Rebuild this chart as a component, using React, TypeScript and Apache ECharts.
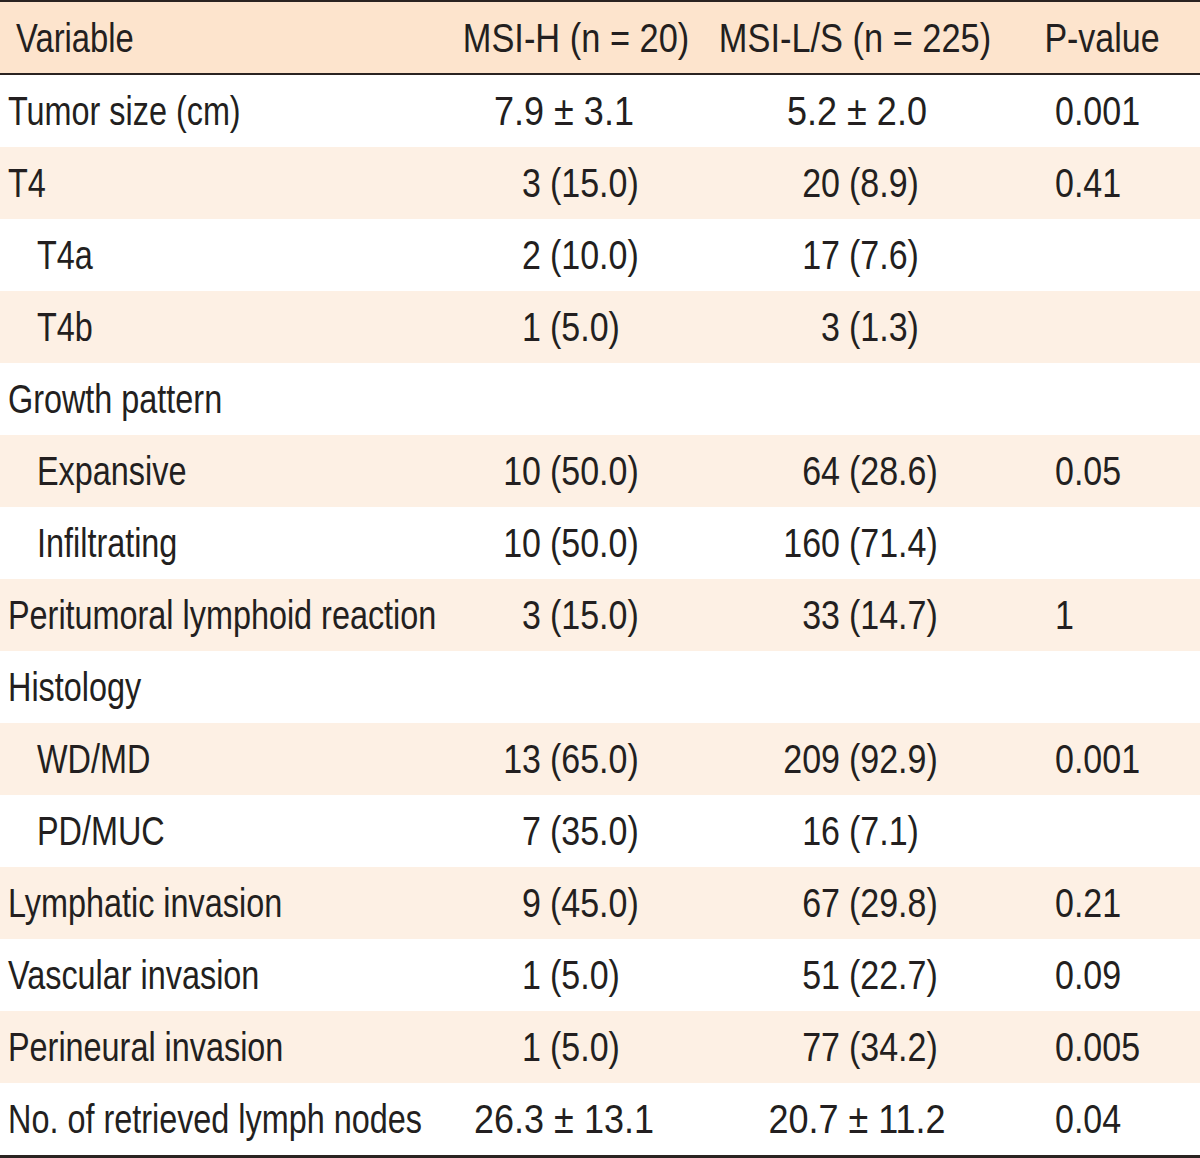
import React, { useEffect, useRef } from 'react';
import * as echarts from 'echarts';

// ---- data ----
const headers = ['Variable', 'MSI-H (n = 20)', 'MSI-L/S (n = 225)', 'P-value'];
const variables = [
  'Tumor size (cm)',
  'T4',
  'T4a',
  'T4b',
  'Growth pattern',
  'Expansive',
  'Infiltrating',
  'Peritumoral lymphoid reaction',
  'Histology',
  'WD/MD',
  'PD/MUC',
  'Lymphatic invasion',
  'Vascular invasion',
  'Perineural invasion',
  'No. of retrieved lymph nodes',
];
const indented = [false, false, true, true, false, true, true, false, false, true, true, false, false, false, false];
const msiH = ['7.9 ± 3.1', '3 (15.0)', '2 (10.0)', '1 (5.0)', '', '10 (50.0)', '10 (50.0)', '3 (15.0)', '', '13 (65.0)', '7 (35.0)', '9 (45.0)', '1 (5.0)', '1 (5.0)', '26.3 ± 13.1'];
const msiLS = ['5.2 ± 2.0', '20 (8.9)', '17 (7.6)', '3 (1.3)', '', '64 (28.6)', '160 (71.4)', '33 (14.7)', '', '209 (92.9)', '16 (7.1)', '67 (29.8)', '51 (22.7)', '77 (34.2)', '20.7 ± 11.2'];
const pValues = ['0.001', '0.41', '', '', '', '0.05', '', '1', '', '0.001', '', '0.21', '0.09', '0.005', '0.04'];

// ---- layout / style ----
const W = 1200;
const H = 1158;
const HEAD_H = 75;
const BOTTOM_GAP = 3;
const FONT = '"Liberation Sans", Arial, sans-serif';
const FONT_SIZE = 40;
// horizontal condensation of the typeface (words vs. figures)
const NARROW_WORD = 0.81;
const NARROW_NUM = 0.85;
const NARROW_PM = 0.9;
const NARROW_HEAD = [0.82, 0.86, 0.86, 0.85];
const TEXT_COLOR = '#231f20';
const HEADER_BG = '#fde4cd';
const BAND_BG = '#fdf0e4';
const LINE_COLOR = '#2a2321';
const VAR_X = 8;
const INDENT_X = 37;
const DATA_COLS = [
  { countRight: 541, pctLeft: 550, center: 564 },
  { countRight: 840, pctLeft: 849, center: 857 },
];
const P_X = 1055;
const HEADER_POS: Array<[number, string]> = [
  [16, 'left'],
  [576, 'center'],
  [855, 'center'],
  [1102, 'center'],
];

function textEl(text: string, x: number, y: number, align: string, sx: number) {
  return {
    type: 'text',
    x,
    y,
    scaleX: sx,
    scaleY: 1,
    style: {
      text,
      fill: TEXT_COLOR,
      fontSize: FONT_SIZE,
      fontFamily: FONT,
      align,
      verticalAlign: 'middle',
      textAlign: align,
      textVerticalAlign: 'middle',
    },
  };
}

function cellEls(val: string, col: { countRight: number; pctLeft: number; center: number }, i: number, y: number, api: any) {
  if (!val) return [];
  const m = val.match(/^(\S+) (\(.+\))$/);
  if (m) {
    return [
      textEl(m[1], api.coord([col.countRight, i])[0], y, 'right', NARROW_NUM),
      textEl(m[2], api.coord([col.pctLeft, i])[0], y, 'left', NARROW_NUM),
    ];
  }
  return [textEl(val, api.coord([col.center, i])[0], y, 'center', NARROW_PM)];
}

export default function App() {
  const ref = useRef<HTMLDivElement>(null);

  useEffect(() => {
    if (!ref.current) return;
    const chart = echarts.init(ref.current, undefined, { renderer: 'svg' });

    const option: any = {
      animation: false,
      backgroundColor: '#ffffff',
      grid: { left: 0, right: 0, top: HEAD_H, bottom: BOTTOM_GAP, containLabel: false },
      xAxis: { type: 'value', min: 0, max: W, show: false },
      yAxis: {
        type: 'category',
        inverse: true,
        data: variables,
        boundaryGap: true,
        axisLine: { show: false },
        axisTick: { show: false, interval: 0 },
        axisLabel: { show: false, interval: 0 },
        splitLine: { show: false },
        splitArea: { show: true, interval: 0, areaStyle: { color: ['#ffffff', BAND_BG] } },
      },
      series: [
        {
          type: 'custom',
          clip: false,
          data: variables.map((_, i) => [0, i]),
          encode: { x: 0, y: 1 },
          renderItem: (params: any, api: any) => {
            const i = params.dataIndex;
            const y = api.coord([0, i])[1];
            const children: any[] = [];
            children.push(textEl(variables[i], api.coord([indented[i] ? INDENT_X : VAR_X, i])[0], y, 'left', NARROW_WORD));
            children.push(...cellEls(msiH[i], DATA_COLS[0], i, y, api));
            children.push(...cellEls(msiLS[i], DATA_COLS[1], i, y, api));
            if (pValues[i]) children.push(textEl(pValues[i], api.coord([P_X, i])[0], y, 'left', NARROW_NUM));
            return { type: 'group', children };
          },
        },
      ],
      graphic: [
        { type: 'rect', shape: { x: 0, y: 0, width: W, height: HEAD_H }, style: { fill: HEADER_BG } },
        { type: 'rect', shape: { x: 0, y: 0, width: W, height: 2 }, style: { fill: LINE_COLOR } },
        { type: 'rect', shape: { x: 0, y: HEAD_H - 2, width: W, height: 2 }, style: { fill: LINE_COLOR } },
        { type: 'rect', shape: { x: 0, y: H - BOTTOM_GAP, width: W, height: BOTTOM_GAP }, style: { fill: LINE_COLOR } },
        ...headers.map((h, k) => textEl(h, HEADER_POS[k][0], 38, HEADER_POS[k][1], NARROW_HEAD[k])),
      ],
    };

    chart.setOption(option);
    return () => chart.dispose();
  }, []);

  return <div ref={ref} style={{ position: 'fixed', left: 0, top: 0, width: W, height: H }} />;
}
